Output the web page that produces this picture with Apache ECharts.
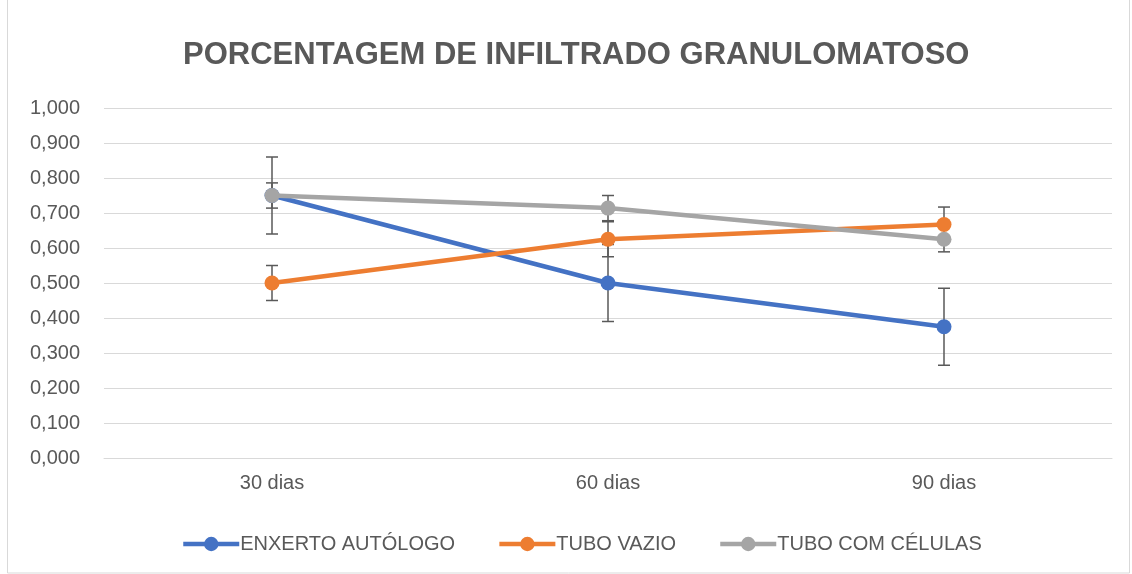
<!DOCTYPE html>
<html>
<head>
<meta charset="utf-8">
<script src="https://cdn.jsdelivr.net/npm/echarts@6/dist/echarts.min.js"></script>
<style>
  html, body { margin: 0; padding: 0; background: #fff; }
  #chart { width: 1132px; height: 574px; }
</style>
</head>
<body>
<div id="chart"></div>
<script>
// Categories and series values
const categories = ['30 dias', '60 dias', '90 dias'];
const seriesNames = ['ENXERTO AUTÓLOGO', 'TUBO VAZIO', 'TUBO COM CÉLULAS'];
const enxertoAutologo = [0.750, 0.500, 0.375];
const tuboVazio = [0.500, 0.625, 0.667];
const tuboComCelulas = [0.750, 0.714, 0.625];
// Symmetric error amounts (±) for each series
const errEnxerto = [0.110, 0.110, 0.110];
const errVazio = [0.050, 0.050, 0.050];
const errCelulas = [0.036, 0.036, 0.036];
const colors = ['#4472C4', '#ED7D31', '#A5A5A5'];

const values = [enxertoAutologo, tuboVazio, tuboComCelulas];
const errors = [errEnxerto, errVazio, errCelulas];

const textColor = '#595959';
const font = 'Liberation Sans, Arial, sans-serif';

// Error bar rows: [categoryIndex, low, high]
function errorRows(vals, errs) {
  return vals.map((v, i) => [i, v - errs[i], v + errs[i]]);
}

function renderErrorBar(params, api) {
  const x = api.value(0);
  const lo = api.coord([x, api.value(1)]);
  const hi = api.coord([x, api.value(2)]);
  const hw = 6;
  const style = { stroke: '#595959', lineWidth: 1.5, fill: null };
  return {
    type: 'group',
    children: [
      { type: 'line', shape: { x1: lo[0], y1: lo[1], x2: hi[0], y2: hi[1] }, style },
      { type: 'line', shape: { x1: lo[0] - hw, y1: lo[1], x2: lo[0] + hw, y2: lo[1] }, style },
      { type: 'line', shape: { x1: hi[0] - hw, y1: hi[1], x2: hi[0] + hw, y2: hi[1] }, style }
    ]
  };
}

const series = [];
values.forEach((vals, k) => {
  series.push({
    name: seriesNames[k] + '_err',
    type: 'custom',
    renderItem: renderErrorBar,
    data: errorRows(vals, errors[k]),
    encode: { x: 0, y: [1, 2] },
    z: 1,
    silent: true
  });
});
values.forEach((vals, k) => {
  series.push({
    name: seriesNames[k],
    type: 'line',
    data: vals,
    symbol: 'circle',
    symbolSize: 15,
    lineStyle: { width: 4.5, color: colors[k] },
    itemStyle: { color: colors[k] },
    z: 3 + k
  });
});

const chart = echarts.init(document.getElementById('chart'), null, { renderer: 'canvas' });
chart.setOption({
  animation: false,
  color: colors,
  title: {
    text: 'PORCENTAGEM DE INFILTRADO GRANULOMATOSO',
    left: 178,
    top: 35,
    textStyle: { fontFamily: font, fontWeight: 'bold', fontSize: 31, color: textColor }
  },
  legend: {
    data: seriesNames,
    bottom: 15,
    left: 176,
    itemWidth: 56,
    itemHeight: 18,
    itemGap: 42,
    lineStyle: { width: 4.5 },
    textStyle: { fontFamily: font, fontSize: 20, color: textColor, padding: [0, 0, 0, -4] }
  },
  grid: { left: 104, right: 20, top: 108, bottom: 116 },
  xAxis: {
    type: 'category',
    data: categories,
    boundaryGap: true,
    axisLine: { lineStyle: { color: '#D9D9D9', width: 1 } },
    axisTick: { show: false },
    axisLabel: { fontFamily: font, fontSize: 20, color: textColor, margin: 15 }
  },
  yAxis: {
    type: 'value',
    min: 0,
    max: 1,
    interval: 0.1,
    axisLine: { show: false },
    axisTick: { show: false },
    splitLine: { lineStyle: { color: '#D9D9D9', width: 1 } },
    axisLabel: {
      fontFamily: font, fontSize: 20, color: textColor, margin: 24,
      formatter: v => v.toFixed(3).replace('.', ',')
    }
  },
  graphic: [{
    type: 'rect',
    shape: { x: 7.5, y: -2, width: 1122, height: 575 },
    style: { fill: null, stroke: '#D9D9D9', lineWidth: 1 },
    silent: true
  }],
  series
});
</script>
</body>
</html>
